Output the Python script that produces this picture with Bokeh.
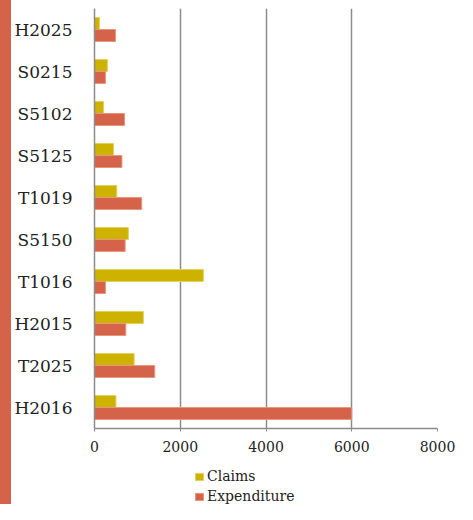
from bokeh.plotting import figure
from bokeh.models import (ColumnDataSource, Range1d, FactorRange, FixedTicker, Legend,
                          LegendItem, Spacer)
from bokeh.transform import dodge
from bokeh.layouts import row, column
from bokeh.embed import file_html
from bokeh.resources import INLINE

categories = ["H2025", "S0215", "S5102", "S5125", "T1019",
              "S5150", "T1016", "H2015", "T2025", "H2016"]
claims = [115, 300, 210, 445, 520, 790, 2540, 1140, 925, 500]
expenditure = [490, 255, 700, 640, 1100, 715, 255, 730, 1405, 6000]
x_ticks = [0, 2000, 4000, 6000, 8000]
series_names = ["Claims", "Expenditure"]

CLAIMS_COLOR = "#CDB300"
EXP_COLOR = "#D5634A"
GRID = "#8C8C8C"
FONT = "DejaVu Serif"
TEXT = "#222222"

source = ColumnDataSource(dict(cat=categories, claims=claims, exp=expenditure))

p = figure(width=446, height=462, output_backend="svg", toolbar_location=None,
           x_range=Range1d(0, 8000), y_range=FactorRange(factors=categories[::-1]),
           min_border_left=83, min_border_right=20, min_border_top=8,
           min_border_bottom=34)
p.outline_line_color = None

p.hbar(y=dodge("cat", 0.143, range=p.y_range), right="claims", left=0,
       height=0.286, source=source, fill_color=CLAIMS_COLOR,
       line_color="#E2D060", line_width=1)
p.hbar(y=dodge("cat", -0.143, range=p.y_range), right="exp", left=0,
       height=0.286, source=source, fill_color=EXP_COLOR,
       line_color="#E8957F", line_width=1)

p.xaxis.ticker = FixedTicker(ticks=x_ticks)
p.xaxis.minor_tick_line_color = None
p.xaxis.major_tick_in = 0
p.xaxis.major_tick_out = 3
p.xaxis.major_tick_line_color = GRID
p.xaxis.axis_line_color = GRID
p.xaxis.axis_line_width = 1.5
p.xaxis.major_label_standoff = 9
p.xaxis.major_label_text_font = FONT
p.xaxis.major_label_text_font_size = "14px"
p.xaxis.major_label_text_color = TEXT

p.yaxis.major_tick_line_color = None
p.yaxis.minor_tick_line_color = None
p.yaxis.axis_line_color = GRID
p.yaxis.axis_line_width = 1.5
p.yaxis.major_label_standoff = 16
p.yaxis.major_label_text_font = FONT
p.yaxis.major_label_text_font_size = "17px"
p.yaxis.major_label_text_color = TEXT

p.xgrid.grid_line_color = GRID
p.xgrid.grid_line_width = 1.5
p.ygrid.grid_line_color = None

# legend panel below the chart (legend swatches only; points lie outside the view)
lf = figure(width=446, height=42, output_backend="svg", toolbar_location=None,
            x_range=Range1d(0, 1), y_range=Range1d(0, 1),
            min_border_left=0, min_border_right=0, min_border_top=0,
            min_border_bottom=0)
lf.axis.visible = False
lf.grid.visible = False
lf.outline_line_color = None
g1 = lf.rect(x=[-10], y=[-10], width=1, height=1, fill_color=CLAIMS_COLOR,
             line_color="#E2D060")
g2 = lf.rect(x=[-10], y=[-10], width=1, height=1, fill_color=EXP_COLOR,
             line_color="#E8957F")
legend = Legend(items=[LegendItem(label=series_names[0], renderers=[g1]),
                       LegendItem(label=series_names[1], renderers=[g2])],
                location=(100, 0), orientation="vertical",
                glyph_width=10, glyph_height=9, label_height=16, spacing=4,
                padding=0, margin=0, label_standoff=3,
                label_text_font=FONT, label_text_font_size="14px",
                label_text_color=TEXT,
                border_line_alpha=0, background_fill_alpha=0)
lf.add_layout(legend, "center")

strip = Spacer(width=11, height=504, styles={"background-color": EXP_COLOR})
layout = row(strip, column(p, lf))

open("out.html", "w").write(file_html(layout, INLINE))
